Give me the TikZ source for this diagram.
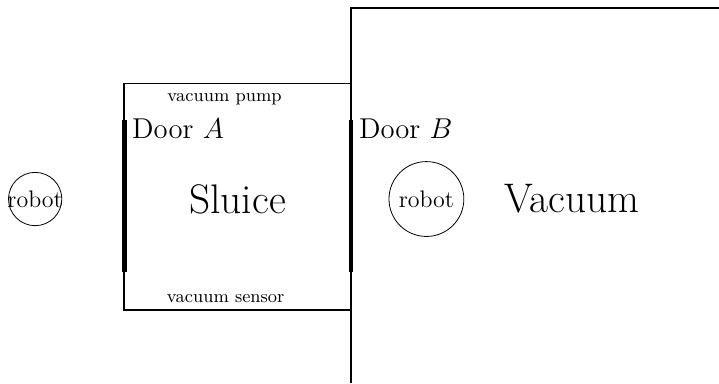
\documentclass[tikz,border=0pt]{standalone}
\usepackage{amsmath, amssymb}
\usepackage{tikz}
\usetikzlibrary{positioning}

\begin{document}
\begin{tikzpicture}[wall/.style={thick}, doorline/.style={line width=2.5pt}, robotnode/.style={inner sep=0pt,font=\large}]
		\useasboundingbox (-2.19,-1.29) rectangle (10.49,5.47);
		\draw[wall] (0,0) rectangle (4,4);
		\draw[wall] (4,-1.29)--(4,5.33)--(10.49,5.33);
		\draw[doorline] (0,0.67)--(0,3.35);
		\draw[doorline] (4,0.67)--(4,3.35);
		\node (sluice) at (2,1.96) {\huge Sluice};
		\node (vacuum) at (7.9,1.96) {\huge Vacuum};
		\node[robotnode] (robotA) at (-1.57,1.96) {robot};
		\node[robotnode] (robotB) at (5.33,1.96) {robot};
		\draw (robotA.center) circle[radius=0.47];
		\draw (robotB.center) circle[radius=0.66];
		\node[right, inner sep=1pt] (doorA) at (0.1,3.2) {\Large Door $A$};
		\node[right, inner sep=1pt] (doorB) at (4.1,3.2) {\Large Door $B$};
		\node (pump) at (1.77,3.72) {\small vacuum pump};
		\node (sensor) at (1.79,0.21) {\small vacuum sensor};
	\end{tikzpicture}
\end{document}
